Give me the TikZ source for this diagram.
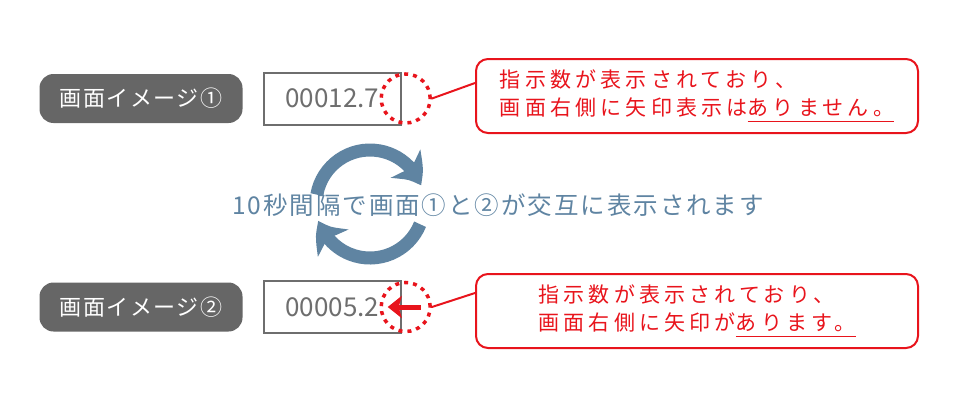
\documentclass[tikz,border=0pt]{standalone}
\usepackage{fontspec}
\setmainfont{Noto Sans CJK JP}
\usetikzlibrary{arrows.meta, bending, positioning, calc}
\definecolor{grisosc}{HTML}{666666}
\definecolor{grisbor}{HTML}{6E6E6E}
\definecolor{rojo}{HTML}{E8141C}
\definecolor{azul}{HTML}{5F84A2}
\newcommand{\subr}[1]{\setbox0\hbox{#1}\rlap{\rule[-6.5pt]{\wd0}{1.1pt}}\box0}
\tikzset{
  etiq/.style={rectangle, rounded corners=14pt, fill=grisosc, text=white, minimum width=203pt, minimum height=49pt,
               font=\fontsize{22}{26}\selectfont\addfontfeatures{LetterSpace=7}},
  pant/.style={rectangle, draw=grisbor, line width=2pt, minimum width=137pt, minimum height=52pt,
               text=grisbor, font=\fontsize{26}{30}\selectfont},
  marca/.style={circle, draw=rojo, line width=3.5pt, dash pattern=on 4pt off 5pt, minimum size=49pt, inner sep=0pt},
  globo/.style={rectangle, rounded corners=12pt, draw=rojo, line width=2pt, minimum width=442pt, minimum height=74pt,
                text=rojo, align=left, font=\fontsize{21}{28}\selectfont\addfontfeatures{LetterSpace=20}},
  enlace/.style={rojo, line width=2pt},
  flecha/.style={rojo, line width=5pt, -{Stealth[length=14pt, width=22pt, inset=3pt]}},
  ciclo/.style={azul, line width=13pt, -{Stealth[length=27pt, width=40pt, inset=7pt, bend]}},
  nota/.style={text=azul, font=\fontsize{24.5}{28}\selectfont\addfontfeatures{LetterSpace=8}}
}
\begin{document}
\begin{tikzpicture}[x=1pt, y=1pt, node distance=20pt]
  \useasboundingbox (0,0) rectangle (960,400);
  % pantalla 1
  \node (etiq1) [etiq] at (141,301.5) {画面イメージ①};
  \node (pant1) [pant, right=of etiq1] {00012.7};
  \node (marca1) [marca] at ($(pant1.east)+(4,0)$) {};
  \node (globo1) [globo] at (697,304) {指示数が表示されており、\\画面右側に矢印表示は\subr{ありません。}};
  \draw [enlace] (marca1.east) -- ($(globo1.west)+(0,13)$);
  % pantalla 2
  \node (etiq2) [etiq] at (141,93) {画面イメージ②};
  \node (pant2) [pant, right=of etiq2] {00005.2};
  \node (marca2) [marca] at ($(pant2.east)+(4,0)$) {};
  \node (globo2) [globo] at (697,89) {指示数が表示されており、\\画面右側に矢印が\subr{あります。}};
  \draw [enlace] (marca2.east) -- ($(globo2.west)+(0,18)$);
  \draw [flecha] ($(marca2.center)+(15,0)$) -- ($(marca2.center)+(-18,0)$);
  % ciclo
  \coordinate (giro) at (370,196);
  \draw [ciclo] ($(giro)+(170:54)$) arc[start angle=170, end angle=20, radius=54];
  \draw [ciclo] ($(giro)+(-22:54)$) arc[start angle=-22, end angle=-162, radius=54];
  \node (nota) [nota] at (498,194.5) {10秒間隔で画面①と②が交互に表示されます};
\end{tikzpicture}
\end{document}
